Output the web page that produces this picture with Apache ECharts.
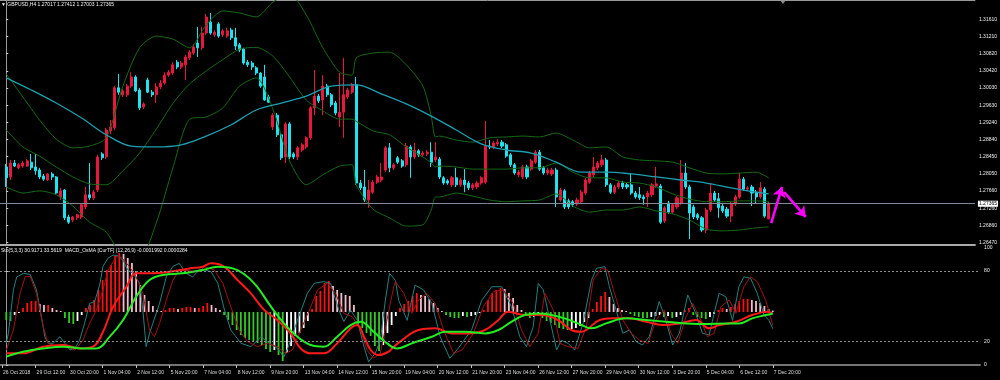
<!DOCTYPE html>
<html><head><meta charset="utf-8">
<script src="https://cdn.jsdelivr.net/npm/echarts@6.0.0/dist/echarts.min.js"></script>
<style>html,body{margin:0;padding:0;background:#000}#c{width:1000px;height:380px}</style>
</head><body><div id="c"></div>
<script>
const symbolName = 'GBPUSD,H4';
const timeLabels = ['26 Oct 2018','29 Oct 12:00','30 Oct 20:00','1 Nov 04:00','2 Nov 12:00','5 Nov 20:00','7 Nov 04:00','8 Nov 12:00','9 Nov 20:00','13 Nov 04:00','14 Nov 12:00','15 Nov 20:00','19 Nov 04:00','20 Nov 12:00','21 Nov 20:00','23 Nov 04:00','26 Nov 12:00','27 Nov 20:00','29 Nov 04:00','30 Nov 12:00','3 Dec 20:00','5 Dec 04:00','6 Dec 12:00','7 Dec 20:00'];
const priceTicks = [1.31610,1.31210,1.30820,1.30420,1.30030,1.29630,1.29240,1.28840,1.28450,1.28050,1.27660,1.27260,1.26860,1.26470];
const oscTicks = [0,20,80,100];
const oscTitle = 'Sto(5,3,3) 30.9171 33.5619  MACD_OsMA [CurTF] (12,26,9) -0.0001992 0.0000284';

const open = [
1.2821,1.2798,1.2830,1.2819,1.2823,1.2823,1.2832,1.2821,1.2814,1.2800,
1.2791,1.2805,1.2798,1.2752,1.2768,1.2706,1.2699,1.2704,1.2706,1.2729,
1.2757,1.2750,1.2768,1.2851,1.2844,1.2904,1.2911,1.3003,1.2987,1.2987,
1.3007,1.3028,1.2998,1.2959,1.3021,1.2993,1.2987,1.3005,1.3014,1.3032,
1.3037,1.3062,1.3051,1.3056,1.3072,1.3083,1.3106,1.3095,1.3129,1.3154,
1.3125,1.3150,1.3125,1.3122,1.3136,1.3118,1.3102,1.3092,1.3062,1.3060,
1.3049,1.3037,1.3028,1.2982,1.2913,1.2940,1.2895,1.2844,1.2920,1.2851,
1.2844,1.2860,1.2867,1.2888,1.2957,1.2984,1.2975,1.3007,1.2987,1.2968,
1.2936,1.2947,1.2982,1.2993,1.3010,1.2784,1.2775,1.2745,1.2763,1.2786,
1.2791,1.2814,1.2865,1.2819,1.2842,1.2835,1.2826,1.2867,1.2844,1.2858,
1.2849,1.2851,1.2855,1.2837,1.2839,1.2796,1.2789,1.2780,1.2796,1.2780,
1.2791,1.2784,1.2773,1.2775,1.2784,1.2786,1.2869,1.2867,1.2874,1.2878,
1.2872,1.2849,1.2826,1.2803,1.2798,1.2821,1.2816,1.2832,1.2855,1.2819,
1.2807,1.2805,1.2814,1.2745,1.2766,1.2743,1.2741,1.2736,1.2741,1.2761,
1.2786,1.2803,1.2819,1.2826,1.2837,1.2780,1.2763,1.2775,1.2784,1.2780,
1.2780,1.2761,1.2757,1.2752,1.2752,1.2757,1.2777,1.2777,1.2697,1.2738,
1.2717,1.2729,1.2738,1.2807,1.2775,1.2729,1.2711,1.2704,1.2676,1.2722,
1.2761,1.2748,1.2731,1.2724,1.2708,1.2736,1.2752,1.2793,1.2770,1.2775,
1.2763,1.2752,1.2770,1.27017];
const close = [
1.2796,1.2830,1.2823,1.2826,1.2830,1.2835,1.2819,1.2812,1.2798,1.2793,
1.2805,1.2798,1.2761,1.2766,1.2704,1.2694,1.2706,1.2711,1.2734,1.2757,
1.2750,1.2763,1.2844,1.2842,1.2906,1.2913,1.3003,1.2993,1.2996,1.3007,
1.3028,1.2996,1.2957,1.2966,1.2993,1.2987,1.3005,1.3014,1.3032,1.3039,
1.3056,1.3051,1.3060,1.3074,1.3085,1.3097,1.3095,1.3129,1.3166,1.3129,
1.3131,1.3122,1.3134,1.3134,1.3118,1.3099,1.3090,1.3060,1.3056,1.3051,
1.3037,1.3007,1.2975,1.2970,1.2940,1.2895,1.2842,1.2920,1.2844,1.2844,
1.2865,1.2872,1.2888,1.2957,1.2984,1.2973,1.3007,1.2987,1.2964,1.2945,
1.2947,1.2987,1.2998,1.3010,1.2784,1.2773,1.2745,1.2768,1.2786,1.2798,
1.2798,1.2865,1.2819,1.2826,1.2832,1.2823,1.2869,1.2844,1.2860,1.2849,
1.2853,1.2855,1.2832,1.2844,1.2798,1.2784,1.2784,1.2796,1.2780,1.2791,
1.2780,1.2773,1.2780,1.2784,1.2796,1.2869,1.2867,1.2876,1.2878,1.2869,
1.2846,1.2826,1.2807,1.2809,1.2821,1.2798,1.2835,1.2855,1.2816,1.2807,
1.2814,1.2814,1.2752,1.2768,1.2729,1.2729,1.2734,1.2745,1.2763,1.2791,
1.2807,1.2821,1.2830,1.2837,1.2780,1.2763,1.2775,1.2784,1.2775,1.2775,
1.2761,1.2752,1.2750,1.2748,1.2761,1.2780,1.2782,1.2694,1.2727,1.2717,
1.2734,1.2750,1.2807,1.2775,1.2715,1.2706,1.2704,1.2676,1.2722,1.2761,
1.2745,1.2727,1.2720,1.2708,1.2736,1.2752,1.2793,1.2770,1.2773,1.2761,
1.2752,1.2773,1.2708,1.27365];
const low = [
1.2775,1.2791,1.2821,1.2816,1.2819,1.2821,1.2814,1.2803,1.2793,1.2789,
1.2789,1.2791,1.2759,1.2745,1.2699,1.2690,1.2694,1.2699,1.2701,1.2724,
1.2745,1.2745,1.2763,1.2837,1.2839,1.2897,1.2906,1.2987,1.2982,1.2982,
1.3003,1.2993,1.2952,1.2954,1.2991,1.2982,1.2968,1.3000,1.3010,1.3028,
1.3032,1.3046,1.3046,1.3021,1.3067,1.3079,1.3074,1.3090,1.3125,1.3125,
1.3120,1.3118,1.3120,1.3118,1.3113,1.3090,1.3085,1.3056,1.3051,1.3044,
1.3032,1.3003,1.2973,1.2968,1.2906,1.2890,1.2837,1.2830,1.2839,1.2839,
1.2837,1.2855,1.2862,1.2883,1.2940,1.2968,1.2940,1.2982,1.2959,1.2940,
1.2913,1.2888,1.2977,1.2989,1.2780,1.2768,1.2741,1.2727,1.2759,1.2782,
1.2786,1.2809,1.2809,1.2814,1.2828,1.2819,1.2821,1.2796,1.2839,1.2844,
1.2844,1.2846,1.2821,1.2832,1.2793,1.2780,1.2780,1.2775,1.2775,1.2775,
1.2763,1.2768,1.2768,1.2770,1.2780,1.2782,1.2862,1.2862,1.2869,1.2865,
1.2842,1.2821,1.2803,1.2798,1.2793,1.2793,1.2812,1.2828,1.2812,1.2803,
1.2803,1.2800,1.2729,1.2741,1.2724,1.2724,1.2729,1.2731,1.2736,1.2757,
1.2782,1.2798,1.2814,1.2821,1.2775,1.2759,1.2759,1.2770,1.2770,1.2770,
1.2757,1.2748,1.2745,1.2734,1.2729,1.2752,1.2773,1.2690,1.2692,1.2713,
1.2713,1.2724,1.2734,1.2770,1.2655,1.2701,1.2699,1.2671,1.2669,1.2717,
1.2741,1.2704,1.2715,1.2704,1.2694,1.2731,1.2748,1.2766,1.2766,1.2731,
1.2738,1.2748,1.2704,1.27003];
const high = [
1.2828,1.2837,1.2837,1.2830,1.2835,1.2839,1.2851,1.2851,1.2819,1.2805,
1.2807,1.2809,1.2800,1.2773,1.2770,1.2711,1.2708,1.2713,1.2738,1.2775,
1.2830,1.2768,1.2849,1.2855,1.2911,1.2929,1.3007,1.3035,1.3000,1.3012,
1.3039,1.3032,1.3003,1.2970,1.3026,1.2998,1.3014,1.3021,1.3039,1.3044,
1.3062,1.3067,1.3065,1.3079,1.3090,1.3104,1.3143,1.3143,1.3173,1.3175,
1.3136,1.3154,1.3138,1.3141,1.3141,1.3141,1.3106,1.3095,1.3067,1.3065,
1.3053,1.3039,1.3056,1.2987,1.2945,1.2945,1.2899,1.2924,1.2924,1.2855,
1.2869,1.2876,1.2892,1.2961,1.3044,1.2989,1.3032,1.3012,1.2991,1.2973,
1.3037,1.3072,1.3003,1.3014,1.3028,1.2791,1.2814,1.2791,1.2791,1.2803,
1.2830,1.2869,1.2876,1.2830,1.2846,1.2839,1.2876,1.2872,1.2876,1.2862,
1.2858,1.2860,1.2878,1.2878,1.2844,1.2800,1.2793,1.2800,1.2819,1.2796,
1.2816,1.2789,1.2784,1.2789,1.2800,1.2927,1.2883,1.2881,1.2885,1.2883,
1.2876,1.2853,1.2830,1.2814,1.2826,1.2826,1.2839,1.2860,1.2860,1.2823,
1.2819,1.2819,1.2819,1.2773,1.2770,1.2748,1.2745,1.2750,1.2768,1.2796,
1.2812,1.2844,1.2835,1.2849,1.2842,1.2784,1.2780,1.2789,1.2789,1.2784,
1.2807,1.2766,1.2775,1.2757,1.2766,1.2784,1.2821,1.2782,1.2731,1.2743,
1.2738,1.2754,1.2837,1.2830,1.2780,1.2734,1.2715,1.2708,1.2727,1.2784,
1.2766,1.2761,1.2736,1.2729,1.2741,1.2757,1.2807,1.2798,1.2777,1.2780,
1.2768,1.2786,1.2775,1.27412];

const bbIdx = [0,4,8,12,16,20,24,28,32,36,40,44,48,52,56,60,64,68,72,76,80,83,84,88,92,96,100,102,103,104,108,112,116,120,124,128,132,136,140,144,148,152,156,160,164,168,172,176,180,183];
const bbUpper = [1.3035,1.2982,1.2929,1.2885,1.2865,1.2869,1.2888,1.3007,1.3095,1.3122,1.3115,1.3095,1.3148,1.3180,1.3175,1.3166,1.3200,1.3219,1.3171,1.3095,1.3039,1.3032,1.3072,1.3083,1.3085,1.3056,1.3007,1.2938,1.2890,1.2892,1.2883,1.2878,1.2888,1.2890,1.2892,1.2890,1.2899,1.2883,1.2865,1.2867,1.2844,1.2837,1.2835,1.2832,1.2819,1.2807,1.2805,1.2807,1.2809,1.2796];
const bbMiddle = [1.2906,1.2867,1.2846,1.2821,1.2798,1.2782,1.2780,1.2812,1.2853,1.2908,1.2967,1.3012,1.3042,1.3068,1.3092,1.3096,1.3076,1.3028,1.2975,1.2950,1.2931,1.2931,1.2926,1.2904,1.2895,1.2867,1.2844,1.2830,1.2821,1.2823,1.2821,1.2816,1.2816,1.2816,1.2819,1.2819,1.2830,1.2809,1.2796,1.2796,1.2786,1.2784,1.2775,1.2759,1.2747,1.2741,1.2741,1.2743,1.2743,1.2741];
const bbLower = [1.2775,1.2761,1.2766,1.2757,1.2731,1.2694,1.2671,1.2616,1.2612,1.2692,1.2819,1.2931,1.2936,1.2957,1.3007,1.3026,1.2954,1.2835,1.2780,1.2803,1.2823,1.2826,1.2780,1.2724,1.2704,1.2685,1.2688,1.2722,1.2752,1.2752,1.2761,1.2754,1.2745,1.2741,1.2743,1.2745,1.2759,1.2731,1.2717,1.2722,1.2722,1.2729,1.2720,1.2713,1.2699,1.2678,1.2674,1.2676,1.2681,1.2683];

const maIdx = [0,6,12,18,24,30,36,42,48,54,60,66,72,78,84,90,96,102,108,114,120,126,132,138,144,150,156,162,168,174,180,183];
const maValues = [1.3026,1.2998,1.2968,1.2934,1.2895,1.2869,1.2867,1.2872,1.2892,1.2918,1.2952,1.2968,1.2984,1.3007,1.3010,1.2989,1.2966,1.2938,1.2906,1.2874,1.2860,1.2853,1.2832,1.2809,1.2809,1.2805,1.2798,1.2791,1.2784,1.2773,1.2763,1.2759];

const osmaPips = [
-1.6,-1.8,-0.6,-0.2,0.8,1.8,2.2,2.2,1.6,1.4,
1.4,0.8,0.4,0.2,-1.2,-2.2,-2.4,-1.8,-0.6,0.8,
1.4,2.4,4.4,6.4,8.4,9.4,11.2,11.8,11.6,10.8,
9.8,8.2,5.4,3.4,2.2,1.2,0.4,0.2,0.4,0.8,
0.8,0.6,0.8,1.0,1.0,0.8,0.8,1.2,1.8,1.4,
0.8,0.4,-0.6,-1.6,-2.6,-3.6,-4.6,-5.2,-5.6,-5.8,
-6.2,-6.6,-7.4,-8.0,-7.6,-8.6,-9.8,-8.2,-6.8,-4.8,
-4.2,-3.2,-1.8,0.6,3.2,4.2,5.8,6.2,5.2,4.4,
3.8,3.4,3.2,1.4,-2.6,-3.2,-4.2,-4.8,-6.8,-7.8,
-6.6,-4.2,-2.6,-0.8,0.8,1.6,2.2,3.2,3.8,3.4,
3.2,2.6,1.8,0.8,0.2,-0.6,-1.0,-1.2,-1.2,-0.8,
-1.0,-0.8,-0.6,-0.2,0.4,2.4,3.8,4.4,4.8,4.6,
3.8,2.8,1.4,0.4,-0.8,-1.2,-1.0,-0.6,-1.2,-1.8,
-2.2,-2.6,-3.2,-3.4,-3.6,-3.4,-3.2,-2.8,-2.0,-1.2,
0.6,2.0,3.2,4.0,3.0,1.6,0.8,0.4,0.2,-0.4,
-0.8,-1.0,-1.2,-1.2,-1.0,-0.8,-0.6,-1.0,-0.8,-1.2,
-1.0,-0.6,0.4,0.8,-0.6,-1.0,-1.2,-1.4,-1.0,-0.4,
0.4,0.8,0.6,1.0,1.6,2.2,2.6,2.6,2.4,2.2,
1.8,1.2,0.6,0.284];

const stochMain = [[0,18.5],[0.5,27],[1.7,64],[2.5,75],[4.1,78],[5.7,77],[7.2,64],[8.4,41],[9.2,24],[10,18.5],[11.2,18.5],[12.8,24],[14,18.5],[15.2,12.8],[16.4,14.2],[17.5,21],[18.7,35.5],[19.9,52.5],[21.1,54],[22.3,68],[23.1,84],[24.3,91],[25.5,93.6],[26.7,92.8],[27.9,89],[29,81],[30.2,78],[31.8,70],[32.6,47],[33.4,15.6],[34.2,27],[35,35.5],[36.6,52.5],[38.2,75],[39.8,84],[41.3,86.5],[42.9,78],[44.5,75],[46.1,81],[47.3,81],[48.9,79.4],[50.5,69.5],[52.1,46.8],[53.6,29.8],[56,18.5],[58.4,15.6],[60.8,24],[62.8,18.5],[64.7,14.2],[66.3,7],[67.5,17],[69.5,38],[71.9,61],[73.5,69.5],[75.8,71],[77.4,69.5],[79.4,46.8],[80.6,37],[82.2,46.8],[83.8,38],[85.4,15.6],[86.5,2.8],[88.1,10],[89.3,21],[90.5,55],[91.5,78],[92.9,72],[93.7,55],[95.7,38],[97.6,68],[99.6,64],[101.6,52.5],[103.6,24],[105.9,5.7],[107.9,14.2],[111.1,30],[113.5,55],[115.9,66.6],[118.3,66.6],[120.6,49.6],[122.6,24],[124.2,15.6],[125.8,32.6],[127,69.5],[128.2,64],[129.8,38],[131.4,12.8],[132.5,21],[134.1,18.5],[135.7,12.8],[137.7,35.5],[139.7,72],[140.9,82.3],[142.9,83.7],[144,66.6],[145.6,46.8],[147.2,27],[148.8,29.8],[150.4,19.8],[151.9,17],[153.5,24],[155.9,54],[157.5,38],[159.1,17],[160.7,27],[162.7,59.6],[164.6,44],[166.2,27],[167.8,25.5],[169,44],[170.2,61],[171.8,58],[173.4,38],[174.9,66.6],[176.1,75],[177.7,73.8],[179.3,61],[180.9,42.5],[182.1,38],[183,30.9]];
const stochSignal = [[0,12.7],[1.7,29.8],[3.3,61],[4.5,75.1],[5.7,75.5],[7.2,61],[8.8,32.6],[10,18.4],[12,15.6],[14.4,15.6],[16.4,12.7],[18.3,21.2],[19.9,35.4],[21.5,46.8],[23.1,63.8],[24.3,80.8],[26.3,92.2],[27.5,91.6],[29.4,83.7],[31,75.1],[32.6,61],[34.2,29.8],[35.4,24.1],[36.6,35.4],[38.2,55.3],[39.8,72.3],[41.3,80.8],[43.7,80.2],[46.1,79.4],[47.3,83.7],[49.7,80.8],[51.7,69.5],[53.6,49.6],[55.6,29.8],[57.6,19.8],[60,15.6],[62.3,18.4],[64.7,15.6],[66.7,9.9],[68.3,12.7],[70.3,29.8],[72.7,49.6],[74.3,63.8],[76.6,69.5],[78.6,61],[80.6,43.9],[82.6,41.1],[84.6,29.8],[86.1,12.7],[87.7,5.7],[89.3,9.9],[90.9,38.3],[92.5,66.6],[92.9,70.9],[94.9,61],[96.8,43.9],[98.4,55.3],[100.4,61],[102.4,52.4],[104.4,29.8],[106.8,9.9],[108.8,12.7],[111.5,26.9],[113.9,49.6],[116.3,62.4],[118.7,63.8],[121,52.4],[123,29.8],[125,15.6],[127,26.9],[128.6,61],[130.6,46.8],[132.2,18.4],[134.1,15.6],[136.5,14.1],[138.5,32.6],[140.1,72.3],[142.1,82.2],[143.6,80.8],[145.2,61],[147.2,38.3],[149.2,26.9],[151.2,21.2],[153.2,18.4],[155.1,38.3],[157.1,46.8],[158.7,26.9],[160.3,18.4],[162.3,41.1],[163.9,52.4],[165.8,38.3],[167.4,24.1],[169,26.9],[170.6,49.6],[172.6,55.3],[174.2,43.9],[176.1,66.6],[177.7,75.1],[179.3,70.9],[181.3,55.3],[183,33.6]];
const slowRed = [[0,9.9],[4,9.9],[8.8,15.6],[13.6,17],[17.6,14.1],[20.7,15.6],[23.1,28.3],[25.5,49.6],[28.7,66.6],[31,78],[35,78],[39,79.4],[43.7,82.2],[46.9,83.7],[48.9,86.5],[52,83.7],[55.2,72.3],[58.4,61],[61.6,46.8],[64.7,38.3],[67.9,26.9],[70.3,14.1],[72.7,9.9],[75.8,9.9],[79,18.4],[82.2,31.2],[83.8,34],[85.4,24.1],[87,12.7],[88.9,8.5],[91.3,11.3],[92.1,14.1],[94.5,21.2],[98.4,29.8],[102.4,31.2],[106.4,26.9],[110.3,26.9],[114.3,29.8],[117.5,38.3],[119.8,45.4],[123.8,42.5],[127.8,42.5],[131.7,38.3],[134.9,29.8],[137.3,28.3],[138.5,29.8],[141.7,38.3],[144.8,39.7],[148.8,39.7],[152.8,36.8],[156.7,34],[160.7,35.4],[164.7,38.3],[167.8,31.2],[170.2,34],[174.2,36.8],[178.1,42.5],[181.7,45.4],[183,43.9]];
const slowGreen = [[0,7.1],[4,11.3],[8.8,14.1],[13.6,15.6],[18.3,14.1],[21.5,14.1],[24.7,24.1],[27.9,38.3],[31,58.1],[34.2,72.3],[37.4,76.6],[42.1,78],[46.9,80.8],[50.5,83.7],[55.2,80.8],[59.2,69.5],[63.2,49.6],[66.3,35.4],[69.5,24.1],[72.7,17],[75.8,15.6],[79,24.1],[82.2,34],[84.6,36.8],[87.7,28.3],[90.9,18.4],[93.3,14.1],[96.8,18.4],[101.6,24.1],[104.8,28.3],[109.5,28.3],[114.3,26.9],[117.5,29.8],[120.6,36.8],[123.8,42.5],[127,43.9],[130.2,42.5],[133.3,39.7],[136.5,35.4],[139.7,31.2],[143.2,35.4],[148,39.7],[152.8,38.3],[157.5,36.8],[162.3,35.4],[167,34.8],[171.8,35.4],[175,35.4],[178.1,39.7],[181.3,42.5],[183,43.9]];
const stochLevels = [80, 20];
const forecastArrows = [[[183.6,1.2692],[186.2,1.2775]],[[186.7,1.2763],[191.9,1.2706]]];

// ---- layout ----
const N = open.length;
const NCAT = 234, BW = 4.203, LEFT = -3.4, GW = NCAT * BW;
const FONT = "'Liberation Sans', 'DejaVu Sans', sans-serif";
const cats = Array.from({length: NCAT}, (_, c) => String(c));
const candleData = cats.map((_, c) => { const i = c - 1; return (i >= 0 && i < N) ? [open[i], close[i], low[i], high[i]] : '-'; });
const histData = cats.map((_, c) => {
  const i = c - 1; if (i < 0 || i >= N) return '-';
  const v = osmaPips[i], p = i > 0 ? osmaPips[i - 1] : v;
  const col = v >= 0 ? (v >= p ? '#ff1010' : '#f4bccb') : (v <= p ? '#33cc22' : '#ffffff');
  return {value: v, itemStyle: {color: col}};
});
const pairs = (idx, vals) => idx.map((i, k) => [i, vals[k]]);
const last = N - 1;
const titleText = '\u25BC ' + symbolName + ' ' + [open[last], high[last], low[last], close[last]].map(v => v.toFixed(5)).join(' ');
const showTick = (index) => index % 8 === 0 && index / 8 < timeLabels.length;

const ln = (data, color, width, xi, yi, smooth, extra) => Object.assign({
  type: 'line', data, xAxisIndex: xi, yAxisIndex: yi, symbol: 'none', smooth: smooth,
  lineStyle: {color, width}, silent: true, z: 3
}, extra || {});

const chart = echarts.init(document.getElementById('c'), null, {renderer: 'canvas'});
chart.setOption({
  backgroundColor: '#000',
  animation: false,
  title: [
    {text: titleText, left: 1, top: 2, padding: 0, textStyle: {fontSize: 5, color: '#f0f0f0', fontWeight: 'normal', fontFamily: FONT}},
    {text: oscTitle, left: 1, top: 248.5, padding: 0, textStyle: {fontSize: 5, color: '#f0f0f0', fontWeight: 'normal', fontFamily: FONT}}
  ],
  grid: [
    {left: LEFT, top: 0, width: GW, height: 245},
    {left: LEFT, top: 247.5, width: GW, height: 117.5}
  ],
  xAxis: [
    {type: 'category', gridIndex: 0, data: cats, boundaryGap: true, position: 'top',
     axisLine: {show: true, onZero: false, lineStyle: {color: '#9a9a9a', width: 1}}, axisTick: {show: false}, axisLabel: {show: false}, splitLine: {show: false}},
    {type: 'value', gridIndex: 0, min: -1.5, max: NCAT - 1.5, position: 'bottom',
     axisLine: {show: true, onZero: false, lineStyle: {color: '#a8a8a8', width: 2}}, axisTick: {show: false}, axisLabel: {show: false}, splitLine: {show: false}},
    {type: 'category', gridIndex: 1, data: cats, boundaryGap: true, position: 'bottom',
     axisLine: {show: true, onZero: false, lineStyle: {color: '#9a9a9a', width: 1.5}},
     axisTick: {show: true, alignWithLabel: true, interval: showTick, length: 3, lineStyle: {color: '#bdbdbd'}},
     axisLabel: {show: true, interval: showTick, formatter: (v, idx) => timeLabels[Number(v) / 8] || '', align: 'left', padding: [0, 0, 0, 1], margin: 5, fontSize: 5, color: '#dcdcdc', fontFamily: FONT},
     splitLine: {show: false}},
    {type: 'value', gridIndex: 1, min: -1.5, max: NCAT - 1.5, show: false}
  ],
  yAxis: [
    {type: 'value', gridIndex: 0, position: 'right', min: 1.26415, max: 1.3205,
     axisLine: {show: true, lineStyle: {color: '#9a9a9a'}},
     axisTick: {show: true, customValues: priceTicks, length: 2, lineStyle: {color: '#cfcfcf'}},
     axisLabel: {customValues: priceTicks, formatter: v => v.toFixed(5), fontSize: 5, color: '#ececec', margin: 4, fontFamily: FONT},
     splitLine: {show: false}},
    {type: 'value', gridIndex: 1, position: 'right', min: 0, max: 100,
     axisLine: {show: true, lineStyle: {color: '#9a9a9a'}},
     axisTick: {show: true, customValues: oscTicks, length: 2, lineStyle: {color: '#cfcfcf'}},
     axisLabel: {customValues: oscTicks, formatter: v => String(v), fontSize: 5, color: '#ececec', margin: 4, fontFamily: FONT},
     splitLine: {show: false}},
    {type: 'value', gridIndex: 1, min: -10.6, max: 12.9, show: false}
  ],
  series: [
    {type: 'candlestick', xAxisIndex: 0, yAxisIndex: 0, data: candleData, barWidth: 2.6, silent: true, z: 2,
     itemStyle: {color: '#e8173e', color0: '#1fe3ee', borderColor: '#e8173e', borderColor0: '#1fe3ee', borderWidth: 1}},
    ln(pairs(bbIdx, bbUpper), '#146a14', 1, 1, 0, 0.25),
    ln(pairs(bbIdx, bbMiddle), '#146a14', 1, 1, 0, 0.25),
    ln(pairs(bbIdx, bbLower), '#146a14', 1, 1, 0, 0.25),
    ln(pairs(maIdx, maValues), '#1c9fb0', 1.3, 1, 0, 0.35, {markLine: {silent: true, symbol: ['none', 'none'], animation: false, precision: 5,
       lineStyle: {color: '#7d8a99', width: 1, type: 'solid'},
       label: {show: true, position: 'end', distance: 3, formatter: () => close[last].toFixed(5), color: '#000', backgroundColor: '#ffffff', fontSize: 5, padding: [1, 1, 0, 1], fontFamily: FONT},
       data: [{yAxis: close[last]}]}}),
    {type: 'lines', coordinateSystem: 'cartesian2d', xAxisIndex: 1, yAxisIndex: 0, silent: true, z: 6,
     data: forecastArrows.map(c => ({coords: c})), symbol: ['none', 'arrow'], symbolSize: 10,
     lineStyle: {color: '#ff00ff', width: 2.6, opacity: 1, curveness: 0}},
    {type: 'bar', xAxisIndex: 2, yAxisIndex: 2, data: histData, barWidth: 1.8, silent: true, z: 2},
    ln(stochMain, '#23807f', 1, 3, 1, false, {markLine: {silent: true, symbol: ['none', 'none'], animation: false,
       lineStyle: {color: '#8a8a8a', width: 1, type: [2, 2]}, label: {show: false},
       data: stochLevels.map(v => ({yAxis: v}))}}),
    ln(stochSignal, '#a01212', 1, 3, 1, false),
    ln(slowRed, '#ff1a1a', 2, 3, 1, 0.4),
    ln(slowGreen, '#22ee22', 2, 3, 1, 0.4)
  ],
  graphic: [
    {type: 'polygon', shape: {points: [[780, 0], [786, 0], [783, 4]]}, style: {fill: '#8a8a8a'}, silent: true}
  ]
});
</script>
</body></html>
